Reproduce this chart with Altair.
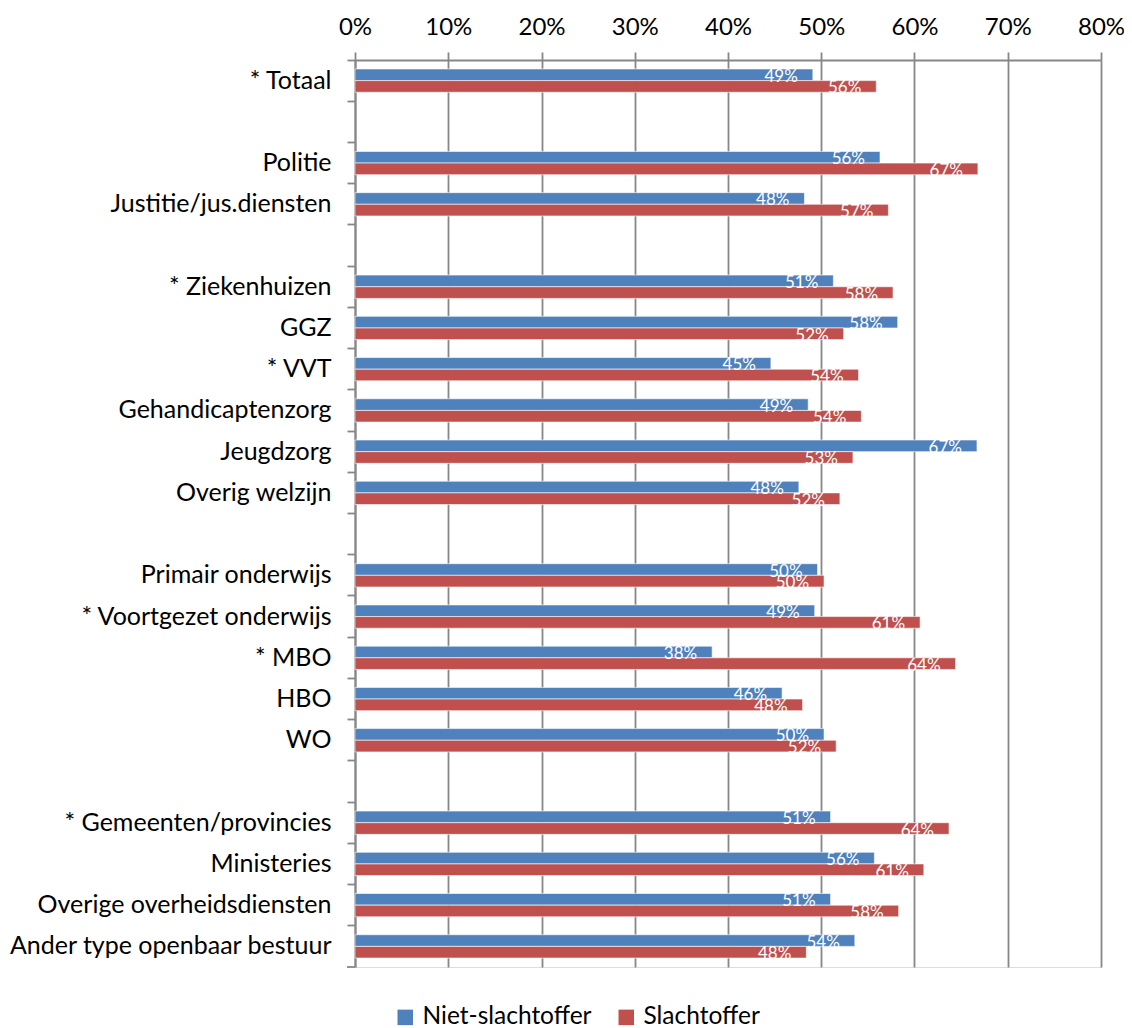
import altair as alt
import pandas as pd

categories = ["* Totaal", " ", "Politie", "Justitie/jus.diensten", "  ",
              "* Ziekenhuizen", "GGZ", "* VVT", "Gehandicaptenzorg", "Jeugdzorg",
              "Overig welzijn", "   ", "Primair onderwijs", "* Voortgezet onderwijs",
              "* MBO", "HBO", "WO", "    ", "* Gemeenten/provincies", "Ministeries",
              "Overige overheidsdiensten", "Ander type openbaar bestuur"]
bar_categories = [c for c in categories if c.strip()]

niet_slachtoffer = [49.1, 56.3, 48.2, 51.3, 58.2, 44.6, 48.6, 66.7, 47.6,
                    49.6, 49.3, 38.3, 45.8, 50.3, 51.0, 55.7, 51.0, 53.6]
slachtoffer = [55.9, 66.8, 57.2, 57.7, 52.4, 54.0, 54.3, 53.4, 52.0,
               50.3, 60.6, 64.4, 48.0, 51.6, 63.7, 61.0, 58.3, 48.4]

series = ["Niet-slachtoffer", "Slachtoffer"]
colors = ["#4F81BD", "#C0504D"]
x_ticks = [0, 0.1, 0.2, 0.3, 0.4, 0.5, 0.6, 0.7, 0.8]

rows = []
for c, a, b in zip(bar_categories, niet_slachtoffer, slachtoffer):
    rows.append({"cat": c, "series": series[0], "value": a / 100})
    rows.append({"cat": c, "series": series[1], "value": b / 100})
df = pd.DataFrame(rows)

W, H = 746, 907
FONT = "Lato"
GRAY = "#878787"
FS = 25

x = alt.X("value:Q",
          scale=alt.Scale(domain=[0, 0.8], nice=False, zero=True),
          axis=alt.Axis(orient="top", values=x_ticks, format=".0%", title=None,
                        grid=True, gridColor=GRAY, gridWidth=1.8,
                        domainColor=GRAY, domainWidth=2,
                        tickColor=GRAY, tickWidth=1.8, tickSize=8,
                        labelFont=FONT, labelFontSize=24, labelColor="#000000",
                        labelPadding=13, labelFlush=False))
y = alt.Y("cat:N", sort=categories,
          scale=alt.Scale(domain=categories, paddingInner=0, paddingOuter=0),
          axis=alt.Axis(title=None, bandPosition=0,
                        domainColor=GRAY, domainWidth=2,
                        tickColor=GRAY, tickWidth=1.8, tickSize=8,
                        labelFont=FONT, labelFontSize=FS, labelColor="#000000",
                        labelPadding=16, labelLimit=400))
yoff = alt.YOffset("series:N",
                   scale=alt.Scale(domain=series, paddingInner=0, paddingOuter=0.77))

bars = alt.Chart(df).mark_bar(stroke="white", strokeWidth=1, strokeOpacity=0.6).encode(
    x=x, y=y, yOffset=yoff,
    color=alt.Color("series:N",
                    scale=alt.Scale(domain=series, range=colors),
                    legend=alt.Legend(title=None, orient="none", direction="horizontal",
                                      legendX=38, legendY=945,
                                      symbolType="square", symbolSize=240,
                                      symbolStrokeWidth=0, labelOffset=5,
                                      labelFont=FONT, labelFontSize=24.5,
                                      labelColor="#000000", columnPadding=22,
                                      labelLimit=300)),
)

labels = alt.Chart(df).mark_text(align="right", baseline="middle", dx=-15, dy=2,
                                 color="white", fontSize=17, font=FONT).encode(
    x=x, y=y, yOffset=yoff,
    text=alt.Text("value:Q", format=".0%"),
)

end_tick = alt.Chart(alt.Data(values=[{"k": 1}])).mark_rule(
    color=GRAY, strokeWidth=1.8).encode(
    x=alt.value(-8), x2=alt.value(0), y=alt.value(H))

chart = alt.layer(bars, labels, end_tick).properties(
    width=W, height=H,
    autosize=alt.AutoSizeParams(type="none"),
    padding={"left": 347, "top": 52, "right": 23, "bottom": 64},
).configure_view(stroke=None).configure(background="white")

chart.save("out.html", embed_options={"renderer": "svg", "actions": False})
